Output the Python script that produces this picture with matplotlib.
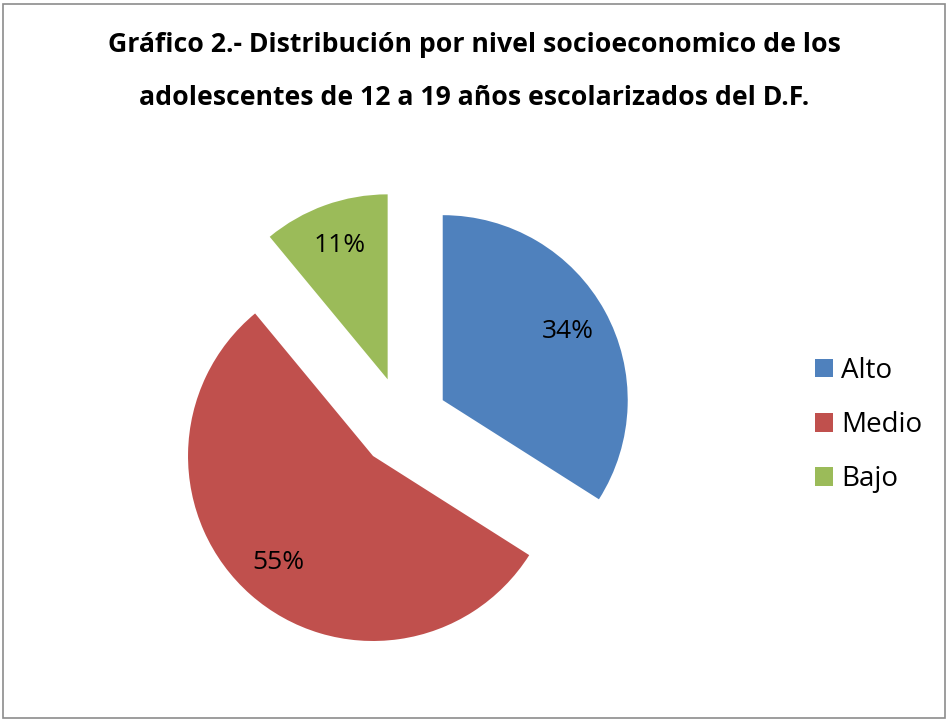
import matplotlib.pyplot as plt
from matplotlib.patches import Rectangle

# datos
niveles = ['Alto', 'Medio', 'Bajo']
porcentajes = [34, 55, 11]
colores = ['#4F81BD', '#C0504D', '#9BBB59']

fig = plt.figure(figsize=(9.49, 7.21), dpi=100)
plt.rcParams['font.family'] = ['Open Sans', 'DejaVu Sans']

# marco gris del grafico
fig.patches.append(Rectangle((3 / 949, 3 / 721), 942 / 949, 714 / 721, transform=fig.transFigure,
                             fill=False, edgecolor='#8c8c8c', linewidth=1.2))

fig.text(0.5, 1 - 45 / 721, 'Gráfico 2.- Distribución por nivel socioeconomico de los',
         ha='center', va='center', fontsize=19.2, fontweight='bold')
fig.text(0.5, 1 - 98 / 721, 'adolescentes de 12 a 19 años escolarizados del D.F.',
         ha='center', va='center', fontsize=19.2, fontweight='bold')

# ejes del pastel: 1 unidad = 185 px, centro en (403, 422)
ax = fig.add_axes([107 / 949, 3 / 721, 592 / 949, 592 / 721])

wedges, textos, autotextos = ax.pie(porcentajes, colors=colores, startangle=90, counterclock=False,
                                    explode=[0.245, 0.245, 0.245], autopct='%d%%', pctdistance=0.77,
                                    radius=1, frame=True,
                                    textprops={'fontsize': 19, 'color': 'black'})
ax.set_xlim(-1.6, 1.6)
ax.set_ylim(-1.6, 1.6)
ax.set_aspect('equal')
ax.axis('off')

leg = fig.legend(wedges, niveles, loc='center left', bbox_to_anchor=(790 / 949, 1 - 425 / 721),
                 frameon=False, fontsize=20, handlelength=0.65, handleheight=0.65,
                 labelspacing=0.95, handletextpad=0.3)

fig.savefig('out.png', dpi=100)
